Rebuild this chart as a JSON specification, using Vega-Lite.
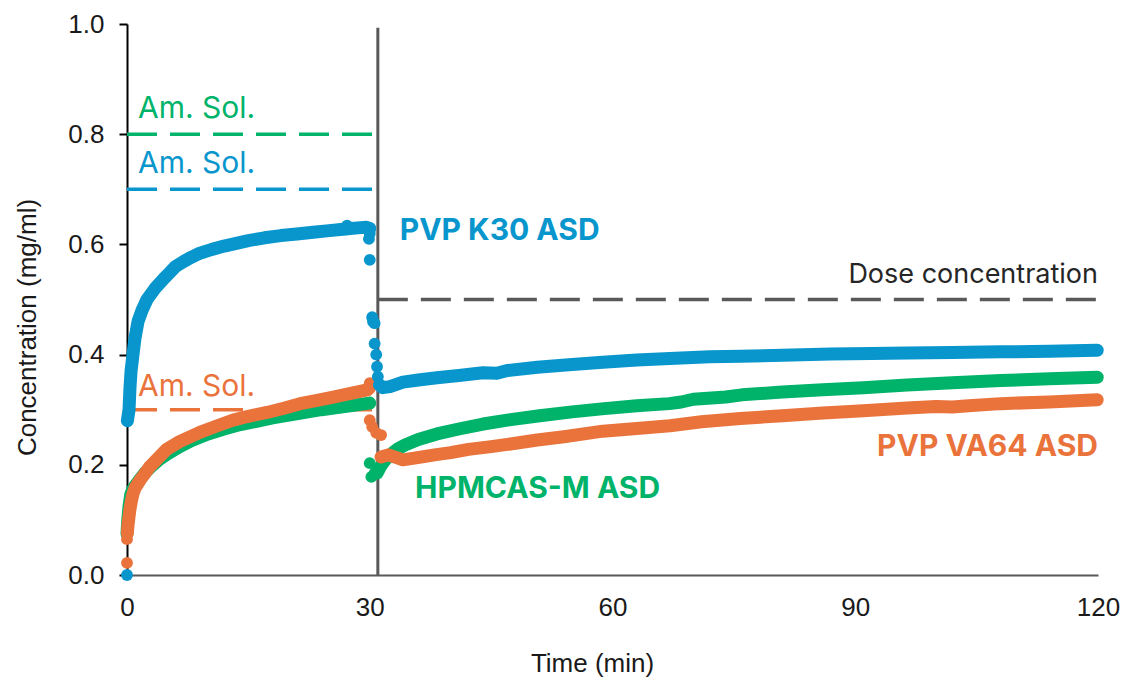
{
  "$schema": "https://vega.github.io/schema/vega-lite/v6.json",
  "width": 971,
  "height": 551,
  "autosize": {"type": "none"},
  "padding": {"left": 127, "top": 24, "right": 27, "bottom": 106},
  "background": "white",
  "config": {"view": {"stroke": null}, "font": "Liberation Sans"},
  "datasets": {
    "pts": [
      {"s": "PVP K30", "p": 0, "t": 0, "c": 0.0},
      {"s": "PVP K30", "p": 1, "t": 0.05, "c": 0.28},
      {"s": "PVP K30", "p": 1, "t": 0.25, "c": 0.30},
      {"s": "PVP K30", "p": 1, "t": 0.37, "c": 0.34},
      {"s": "PVP K30", "p": 1, "t": 0.5, "c": 0.37},
      {"s": "PVP K30", "p": 1, "t": 0.74, "c": 0.40},
      {"s": "PVP K30", "p": 1, "t": 0.99, "c": 0.43},
      {"s": "PVP K30", "p": 1, "t": 1.36, "c": 0.46},
      {"s": "PVP K30", "p": 1, "t": 1.85, "c": 0.48},
      {"s": "PVP K30", "p": 1, "t": 2.47, "c": 0.50},
      {"s": "PVP K30", "p": 1, "t": 3.46, "c": 0.52},
      {"s": "PVP K30", "p": 1, "t": 4.7, "c": 0.54},
      {"s": "PVP K30", "p": 1, "t": 6.0, "c": 0.56},
      {"s": "PVP K30", "p": 1, "t": 7.0, "c": 0.569},
      {"s": "PVP K30", "p": 1, "t": 8.0, "c": 0.577},
      {"s": "PVP K30", "p": 1, "t": 9.0, "c": 0.584},
      {"s": "PVP K30", "p": 1, "t": 10.5, "c": 0.591},
      {"s": "PVP K30", "p": 1, "t": 12.0, "c": 0.597},
      {"s": "PVP K30", "p": 1, "t": 13.5, "c": 0.602},
      {"s": "PVP K30", "p": 1, "t": 15.0, "c": 0.607},
      {"s": "PVP K30", "p": 1, "t": 17.0, "c": 0.612},
      {"s": "PVP K30", "p": 1, "t": 19.0, "c": 0.616},
      {"s": "PVP K30", "p": 1, "t": 21.0, "c": 0.619},
      {"s": "PVP K30", "p": 1, "t": 23.0, "c": 0.622},
      {"s": "PVP K30", "p": 1, "t": 25.0, "c": 0.625},
      {"s": "PVP K30", "p": 1, "t": 27.0, "c": 0.628},
      {"s": "PVP K30", "p": 1, "t": 28.5, "c": 0.630},
      {"s": "PVP K30", "p": 1, "t": 29.6, "c": 0.631},
      {"s": "PVP K30", "p": 1, "t": 30.0, "c": 0.629},
      {"s": "PVP K30", "p": 0, "t": 27.2, "c": 0.634},
      {"s": "PVP K30", "p": 0, "t": 30.0, "c": 0.62},
      {"s": "PVP K30", "p": 0, "t": 29.9, "c": 0.61},
      {"s": "PVP K30", "p": 0, "t": 30.0, "c": 0.572},
      {"s": "PVP K30", "p": 0, "t": 30.3, "c": 0.468},
      {"s": "PVP K30", "p": 0, "t": 30.4, "c": 0.46},
      {"s": "PVP K30", "p": 0, "t": 30.6, "c": 0.457},
      {"s": "PVP K30", "p": 0, "t": 30.6, "c": 0.42},
      {"s": "PVP K30", "p": 0, "t": 30.8, "c": 0.40},
      {"s": "PVP K30", "p": 0, "t": 30.9, "c": 0.378},
      {"s": "PVP K30", "p": 0, "t": 31.0, "c": 0.36},
      {"s": "PVP K30", "p": 2, "t": 31.2, "c": 0.345},
      {"s": "PVP K30", "p": 2, "t": 31.6, "c": 0.34},
      {"s": "PVP K30", "p": 2, "t": 32.5, "c": 0.342},
      {"s": "PVP K30", "p": 2, "t": 34.1, "c": 0.35},
      {"s": "PVP K30", "p": 2, "t": 36.0, "c": 0.354},
      {"s": "PVP K30", "p": 2, "t": 38.3, "c": 0.358},
      {"s": "PVP K30", "p": 2, "t": 41.0, "c": 0.362},
      {"s": "PVP K30", "p": 2, "t": 44.0, "c": 0.367},
      {"s": "PVP K30", "p": 2, "t": 45.7, "c": 0.366},
      {"s": "PVP K30", "p": 2, "t": 47.0, "c": 0.371},
      {"s": "PVP K30", "p": 2, "t": 50.7, "c": 0.377},
      {"s": "PVP K30", "p": 2, "t": 55.0, "c": 0.382},
      {"s": "PVP K30", "p": 2, "t": 58.8, "c": 0.386},
      {"s": "PVP K30", "p": 2, "t": 63.0, "c": 0.39},
      {"s": "PVP K30", "p": 2, "t": 67.1, "c": 0.393},
      {"s": "PVP K30", "p": 2, "t": 72.0, "c": 0.396},
      {"s": "PVP K30", "p": 2, "t": 75.8, "c": 0.397},
      {"s": "PVP K30", "p": 2, "t": 81.0, "c": 0.399},
      {"s": "PVP K30", "p": 2, "t": 87.0, "c": 0.401},
      {"s": "PVP K30", "p": 2, "t": 92.0, "c": 0.402},
      {"s": "PVP K30", "p": 2, "t": 96.4, "c": 0.403},
      {"s": "PVP K30", "p": 2, "t": 102.0, "c": 0.404},
      {"s": "PVP K30", "p": 2, "t": 108.0, "c": 0.405},
      {"s": "PVP K30", "p": 2, "t": 114.0, "c": 0.406},
      {"s": "PVP K30", "p": 2, "t": 119.9, "c": 0.408},

      {"s": "HPMCAS-M", "p": 1, "t": 0.0, "c": 0.075},
      {"s": "HPMCAS-M", "p": 1, "t": 0.1, "c": 0.10},
      {"s": "HPMCAS-M", "p": 1, "t": 0.25, "c": 0.125},
      {"s": "HPMCAS-M", "p": 1, "t": 0.45, "c": 0.145},
      {"s": "HPMCAS-M", "p": 1, "t": 0.7, "c": 0.155},
      {"s": "HPMCAS-M", "p": 1, "t": 1.0, "c": 0.162},
      {"s": "HPMCAS-M", "p": 1, "t": 1.5, "c": 0.172},
      {"s": "HPMCAS-M", "p": 1, "t": 2.2, "c": 0.185},
      {"s": "HPMCAS-M", "p": 1, "t": 3.0, "c": 0.197},
      {"s": "HPMCAS-M", "p": 1, "t": 4.0, "c": 0.21},
      {"s": "HPMCAS-M", "p": 1, "t": 5.0, "c": 0.22},
      {"s": "HPMCAS-M", "p": 1, "t": 6.5, "c": 0.233},
      {"s": "HPMCAS-M", "p": 1, "t": 8.0, "c": 0.244},
      {"s": "HPMCAS-M", "p": 1, "t": 10.0, "c": 0.256},
      {"s": "HPMCAS-M", "p": 1, "t": 12.0, "c": 0.265},
      {"s": "HPMCAS-M", "p": 1, "t": 14.0, "c": 0.273},
      {"s": "HPMCAS-M", "p": 1, "t": 16.0, "c": 0.279},
      {"s": "HPMCAS-M", "p": 1, "t": 18.0, "c": 0.285},
      {"s": "HPMCAS-M", "p": 1, "t": 20.0, "c": 0.29},
      {"s": "HPMCAS-M", "p": 1, "t": 22.0, "c": 0.295},
      {"s": "HPMCAS-M", "p": 1, "t": 24.0, "c": 0.30},
      {"s": "HPMCAS-M", "p": 1, "t": 26.0, "c": 0.304},
      {"s": "HPMCAS-M", "p": 1, "t": 28.0, "c": 0.308},
      {"s": "HPMCAS-M", "p": 1, "t": 29.5, "c": 0.311},
      {"s": "HPMCAS-M", "p": 1, "t": 30.0, "c": 0.312},
      {"s": "HPMCAS-M", "p": 0, "t": 30.0, "c": 0.203},
      {"s": "HPMCAS-M", "p": 0, "t": 30.2, "c": 0.178},
      {"s": "HPMCAS-M", "p": 0, "t": 30.6, "c": 0.185},
      {"s": "HPMCAS-M", "p": 2, "t": 30.9, "c": 0.185},
      {"s": "HPMCAS-M", "p": 2, "t": 31.3, "c": 0.196},
      {"s": "HPMCAS-M", "p": 2, "t": 31.8, "c": 0.207},
      {"s": "HPMCAS-M", "p": 2, "t": 32.5, "c": 0.218},
      {"s": "HPMCAS-M", "p": 2, "t": 33.5, "c": 0.229},
      {"s": "HPMCAS-M", "p": 2, "t": 34.5, "c": 0.237},
      {"s": "HPMCAS-M", "p": 2, "t": 36.0, "c": 0.246},
      {"s": "HPMCAS-M", "p": 2, "t": 38.3, "c": 0.256},
      {"s": "HPMCAS-M", "p": 2, "t": 41.0, "c": 0.265},
      {"s": "HPMCAS-M", "p": 2, "t": 44.0, "c": 0.274},
      {"s": "HPMCAS-M", "p": 2, "t": 47.0, "c": 0.281},
      {"s": "HPMCAS-M", "p": 2, "t": 51.0, "c": 0.289},
      {"s": "HPMCAS-M", "p": 2, "t": 55.0, "c": 0.296},
      {"s": "HPMCAS-M", "p": 2, "t": 59.0, "c": 0.302},
      {"s": "HPMCAS-M", "p": 2, "t": 63.0, "c": 0.307},
      {"s": "HPMCAS-M", "p": 2, "t": 67.0, "c": 0.311},
      {"s": "HPMCAS-M", "p": 2, "t": 68.5, "c": 0.314},
      {"s": "HPMCAS-M", "p": 2, "t": 70.0, "c": 0.319},
      {"s": "HPMCAS-M", "p": 2, "t": 74.0, "c": 0.323},
      {"s": "HPMCAS-M", "p": 2, "t": 76.0, "c": 0.327},
      {"s": "HPMCAS-M", "p": 2, "t": 81.0, "c": 0.332},
      {"s": "HPMCAS-M", "p": 2, "t": 86.0, "c": 0.336},
      {"s": "HPMCAS-M", "p": 2, "t": 91.0, "c": 0.34},
      {"s": "HPMCAS-M", "p": 2, "t": 96.4, "c": 0.345},
      {"s": "HPMCAS-M", "p": 2, "t": 102.0, "c": 0.349},
      {"s": "HPMCAS-M", "p": 2, "t": 108.0, "c": 0.353},
      {"s": "HPMCAS-M", "p": 2, "t": 114.0, "c": 0.356},
      {"s": "HPMCAS-M", "p": 2, "t": 119.9, "c": 0.359},

      {"s": "PVP VA64", "p": 0, "t": 0.0, "c": 0.022},
      {"s": "PVP VA64", "p": 0, "t": 0.0, "c": 0.065},
      {"s": "PVP VA64", "p": 1, "t": 0.05, "c": 0.076},
      {"s": "PVP VA64", "p": 1, "t": 0.1, "c": 0.087},
      {"s": "PVP VA64", "p": 1, "t": 0.2, "c": 0.10},
      {"s": "PVP VA64", "p": 1, "t": 0.35, "c": 0.118},
      {"s": "PVP VA64", "p": 1, "t": 0.55, "c": 0.135},
      {"s": "PVP VA64", "p": 1, "t": 0.75, "c": 0.148},
      {"s": "PVP VA64", "p": 1, "t": 1.0, "c": 0.158},
      {"s": "PVP VA64", "p": 1, "t": 1.6, "c": 0.172},
      {"s": "PVP VA64", "p": 1, "t": 2.3, "c": 0.186},
      {"s": "PVP VA64", "p": 1, "t": 2.85, "c": 0.197},
      {"s": "PVP VA64", "p": 1, "t": 3.5, "c": 0.207},
      {"s": "PVP VA64", "p": 1, "t": 4.9, "c": 0.228},
      {"s": "PVP VA64", "p": 1, "t": 6.5, "c": 0.242},
      {"s": "PVP VA64", "p": 1, "t": 9.0, "c": 0.259},
      {"s": "PVP VA64", "p": 1, "t": 11.0, "c": 0.27},
      {"s": "PVP VA64", "p": 1, "t": 13.1, "c": 0.281},
      {"s": "PVP VA64", "p": 1, "t": 15.0, "c": 0.288},
      {"s": "PVP VA64", "p": 1, "t": 17.3, "c": 0.295},
      {"s": "PVP VA64", "p": 1, "t": 19.5, "c": 0.303},
      {"s": "PVP VA64", "p": 1, "t": 21.4, "c": 0.311},
      {"s": "PVP VA64", "p": 1, "t": 23.5, "c": 0.317},
      {"s": "PVP VA64", "p": 1, "t": 25.5, "c": 0.323},
      {"s": "PVP VA64", "p": 1, "t": 27.5, "c": 0.329},
      {"s": "PVP VA64", "p": 1, "t": 29.7, "c": 0.336},
      {"s": "PVP VA64", "p": 1, "t": 30.0, "c": 0.34},
      {"s": "PVP VA64", "p": 0, "t": 30.0, "c": 0.348},
      {"s": "PVP VA64", "p": 0, "t": 30.0, "c": 0.281},
      {"s": "PVP VA64", "p": 0, "t": 30.3, "c": 0.269},
      {"s": "PVP VA64", "p": 0, "t": 30.8, "c": 0.258},
      {"s": "PVP VA64", "p": 0, "t": 31.4, "c": 0.254},
      {"s": "PVP VA64", "p": 2, "t": 31.4, "c": 0.214},
      {"s": "PVP VA64", "p": 2, "t": 32.3, "c": 0.218},
      {"s": "PVP VA64", "p": 2, "t": 33.5, "c": 0.212},
      {"s": "PVP VA64", "p": 2, "t": 34.1, "c": 0.209},
      {"s": "PVP VA64", "p": 2, "t": 35.5, "c": 0.212},
      {"s": "PVP VA64", "p": 2, "t": 36.3, "c": 0.214},
      {"s": "PVP VA64", "p": 2, "t": 38.0, "c": 0.218},
      {"s": "PVP VA64", "p": 2, "t": 40.0, "c": 0.222},
      {"s": "PVP VA64", "p": 2, "t": 42.2, "c": 0.228},
      {"s": "PVP VA64", "p": 2, "t": 45.0, "c": 0.233},
      {"s": "PVP VA64", "p": 2, "t": 48.0, "c": 0.239},
      {"s": "PVP VA64", "p": 2, "t": 50.7, "c": 0.245},
      {"s": "PVP VA64", "p": 2, "t": 54.0, "c": 0.251},
      {"s": "PVP VA64", "p": 2, "t": 58.8, "c": 0.261},
      {"s": "PVP VA64", "p": 2, "t": 63.0, "c": 0.266},
      {"s": "PVP VA64", "p": 2, "t": 67.1, "c": 0.271},
      {"s": "PVP VA64", "p": 2, "t": 71.0, "c": 0.278},
      {"s": "PVP VA64", "p": 2, "t": 75.8, "c": 0.284},
      {"s": "PVP VA64", "p": 2, "t": 81.0, "c": 0.289},
      {"s": "PVP VA64", "p": 2, "t": 86.0, "c": 0.294},
      {"s": "PVP VA64", "p": 2, "t": 91.0, "c": 0.298},
      {"s": "PVP VA64", "p": 2, "t": 96.4, "c": 0.303},
      {"s": "PVP VA64", "p": 2, "t": 100.0, "c": 0.306},
      {"s": "PVP VA64", "p": 2, "t": 102.0, "c": 0.305},
      {"s": "PVP VA64", "p": 2, "t": 104.0, "c": 0.307},
      {"s": "PVP VA64", "p": 2, "t": 108.0, "c": 0.311},
      {"s": "PVP VA64", "p": 2, "t": 114.0, "c": 0.314},
      {"s": "PVP VA64", "p": 2, "t": 119.9, "c": 0.318}
    ],
    "refs": [
      {"s": "HPMCAS-M", "t": 0, "t2": 31, "c": 0.8},
      {"s": "PVP K30", "t": 0, "t2": 31, "c": 0.7},
      {"s": "PVP VA64", "t": 0, "t2": 31, "c": 0.3},
      {"s": "Dose", "t": 31, "t2": 120, "c": 0.5}
    ],
    "bold": [
      {"s": "PVP K30", "label": "PVP K30 ASD", "t": 33.7, "c": 0.624},
      {"s": "HPMCAS-M", "label": "HPMCAS-M ASD", "t": 35.6, "c": 0.156}
    ],
    "boldRight": [
      {"s": "PVP VA64", "label": "PVP VA64 ASD", "t": 120, "c": 0.232}
    ],
    "amsol": [
      {"s": "HPMCAS-M", "label": "Am. Sol.", "t": 1.36, "c": 0.846},
      {"s": "PVP K30", "label": "Am. Sol.", "t": 1.36, "c": 0.746},
      {"s": "PVP VA64", "label": "Am. Sol.", "t": 1.36, "c": 0.341}
    ],
    "dose": [
      {"s": "Dose", "label": "Dose concentration", "t": 120, "c": 0.544}
    ]
  },
  "layer": [
    {
      "data": {"name": "refs"},
      "mark": {"type": "rule", "strokeWidth": 3.5, "strokeDash": [30, 13]},
      "encoding": {
        "x": {"field": "t", "type": "quantitative", "scale": {"domain": [0, 120], "nice": false},
          "axis": {"title": "Time (min)", "values": [0, 30, 60, 90, 120], "grid": false, "ticks": false, "tickSize": 0,
            "labelFlush": false, "labelOverlap": false,
            "labelPadding": 19, "labelFontSize": 26, "labelColor": "#1a1a1a", "labelFont": "Liberation Sans",
            "domainColor": "#595959", "domainWidth": 2,
            "titleFontSize": 26, "titleFontWeight": "normal", "titleColor": "#1a1a1a", "titleFont": "Liberation Sans",
            "titleX": 465, "titleY": 88, "titleBaseline": "middle"}},
        "x2": {"field": "t2"},
        "y": {"field": "c", "type": "quantitative", "scale": {"domain": [0, 1], "nice": false},
          "axis": {"title": "Concentration (mg/ml)", "values": [0, 0.2, 0.4, 0.6, 0.8, 1.0], "format": ".1f", "grid": false,
            "labelFlush": false, "labelOverlap": false,
            "tickSize": 8, "tickWidth": 2, "tickColor": "#000", "labelPadding": 15, "labelFontSize": 26, "labelColor": "#1a1a1a",
            "labelFont": "Liberation Sans", "domainColor": "#000", "domainWidth": 2,
            "titleFontSize": 26, "titleFontWeight": "normal", "titleColor": "#1a1a1a", "titleFont": "Liberation Sans",
            "titleX": -100, "titleY": 303, "titleBaseline": "middle", "titleAngle": -90}},
        "color": {"field": "s", "type": "nominal",
          "scale": {"domain": ["PVP K30", "HPMCAS-M", "PVP VA64", "Dose"], "range": ["#0896CD", "#00B36A", "#EA733C", "#595959"]},
          "legend": null}
      }
    },
    {
      "data": {"values": [{"t": 31}]},
      "mark": {"type": "rule", "strokeWidth": 3, "color": "#595959"},
      "encoding": {
        "x": {"field": "t", "type": "quantitative"},
        "y": {"datum": 0},
        "y2": {"datum": 0.993}
      }
    },
    {
      "data": {"name": "pts"},
      "transform": [{"filter": "datum.s === 'HPMCAS-M'"}],
      "encoding": {
        "x": {"field": "t", "type": "quantitative"},
        "y": {"field": "c", "type": "quantitative"},
        "color": {"field": "s", "type": "nominal"}
      },
      "layer": [
        {"transform": [{"filter": "datum.p > 0"}],
         "mark": {"type": "line", "strokeWidth": 13, "strokeCap": "round", "strokeJoin": "round"},
         "encoding": {"detail": {"field": "p", "type": "nominal"}}},
        {"mark": {"type": "circle", "size": 140, "opacity": 1}}
      ]
    },
    {
      "data": {"name": "pts"},
      "transform": [{"filter": "datum.s === 'PVP VA64'"}],
      "encoding": {
        "x": {"field": "t", "type": "quantitative"},
        "y": {"field": "c", "type": "quantitative"},
        "color": {"field": "s", "type": "nominal"}
      },
      "layer": [
        {"transform": [{"filter": "datum.p > 0"}],
         "mark": {"type": "line", "strokeWidth": 13, "strokeCap": "round", "strokeJoin": "round"},
         "encoding": {"detail": {"field": "p", "type": "nominal"}}},
        {"mark": {"type": "circle", "size": 140, "opacity": 1}}
      ]
    },
    {
      "data": {"name": "pts"},
      "transform": [{"filter": "datum.s === 'PVP K30'"}],
      "encoding": {
        "x": {"field": "t", "type": "quantitative"},
        "y": {"field": "c", "type": "quantitative"},
        "color": {"field": "s", "type": "nominal"}
      },
      "layer": [
        {"transform": [{"filter": "datum.p > 0"}],
         "mark": {"type": "line", "strokeWidth": 13, "strokeCap": "round", "strokeJoin": "round"},
         "encoding": {"detail": {"field": "p", "type": "nominal"}}},
        {"mark": {"type": "circle", "size": 140, "opacity": 1}}
      ]
    },
    {
      "data": {"name": "bold"},
      "mark": {"type": "text", "font": "Inter", "fontWeight": "bold", "fontSize": 30, "align": "left", "baseline": "middle"},
      "encoding": {
        "x": {"field": "t", "type": "quantitative"},
        "y": {"field": "c", "type": "quantitative"},
        "text": {"field": "label"},
        "color": {"field": "s", "type": "nominal"}
      }
    },
    {
      "data": {"name": "boldRight"},
      "mark": {"type": "text", "font": "Inter", "fontWeight": "bold", "fontSize": 30, "align": "right", "baseline": "middle"},
      "encoding": {
        "x": {"field": "t", "type": "quantitative"},
        "y": {"field": "c", "type": "quantitative"},
        "text": {"field": "label"},
        "color": {"field": "s", "type": "nominal"}
      }
    },
    {
      "data": {"name": "amsol"},
      "mark": {"type": "text", "font": "Inter", "fontSize": 30, "align": "left", "baseline": "middle"},
      "encoding": {
        "x": {"field": "t", "type": "quantitative"},
        "y": {"field": "c", "type": "quantitative"},
        "text": {"field": "label"},
        "color": {"field": "s", "type": "nominal"}
      }
    },
    {
      "data": {"name": "dose"},
      "mark": {"type": "text", "font": "Inter", "fontSize": 27, "align": "right", "baseline": "middle", "color": "#262626"},
      "encoding": {
        "x": {"field": "t", "type": "quantitative"},
        "y": {"field": "c", "type": "quantitative"},
        "text": {"field": "label"}
      }
    }
  ]
}
